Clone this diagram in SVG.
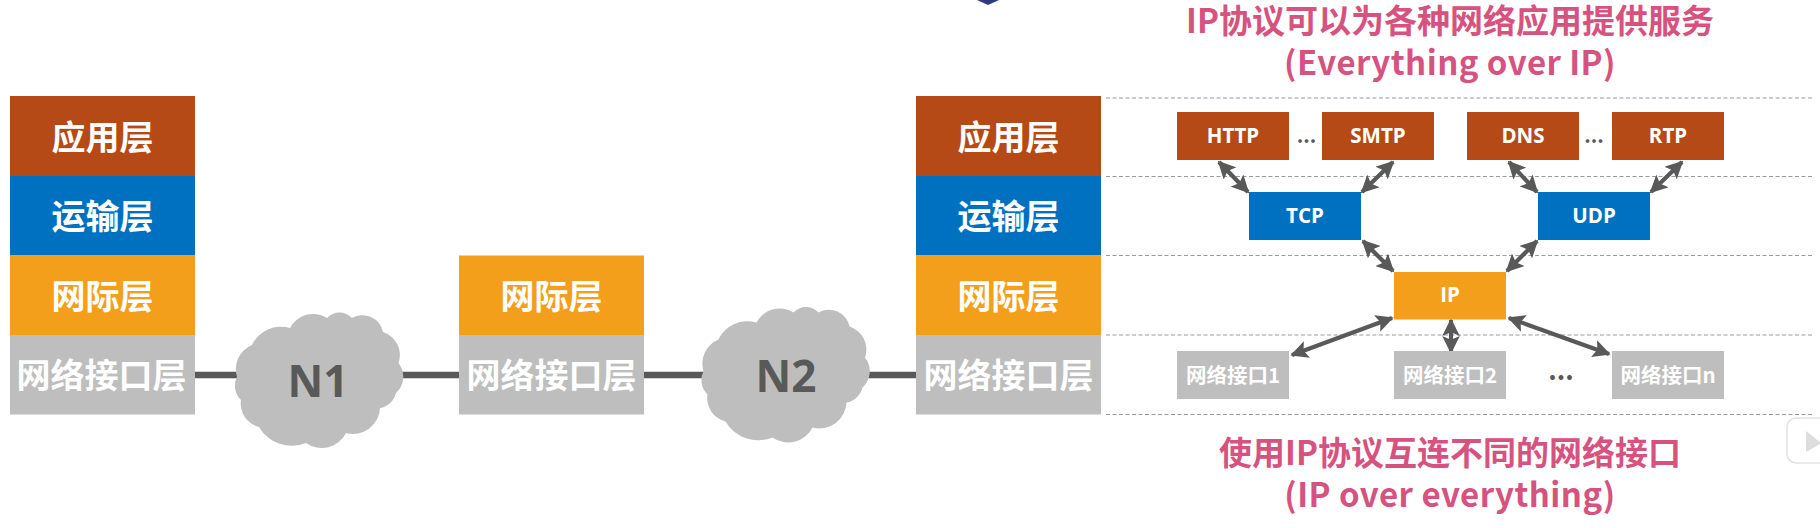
<svg xmlns="http://www.w3.org/2000/svg" xmlns:xlink="http://www.w3.org/1999/xlink" width="1820" height="528" viewBox="0 0 1820 528">
<style>
text{font-family:"Noto Sans CJK SC","Noto Sans",sans-serif;font-weight:700;text-anchor:middle}
.layer{font-size:34px;fill:#fff}
.small{font-size:20.500px;fill:#fff;font-family:"Open Sans","Noto Sans CJK SC",sans-serif;font-weight:700}
.ni{font-size:20.500px;fill:#fff}
.title{font-size:33px;fill:#d6527f}
.wide{letter-spacing:.45px}
.net{font-size:44px;fill:#595959;font-family:"Noto Sans",sans-serif}
.dots{font-size:20px;fill:#595959}
.app{fill:#b54a17}.tra{fill:#0070c0}.ipl{fill:#f39f1b}.lnk{fill:#bebebe}
.wire{stroke:#595959;stroke-width:6.5;fill:none}
.arrow{stroke:#595959;stroke-width:4.2;fill:none;marker-start:url(#ah);marker-end:url(#ah)}
.dash{stroke:#9a9a9a;stroke-width:1.2;stroke-dasharray:4 2.5;fill:none}
</style>
<defs>
<marker id="ah" viewBox="0 0 10 10" refX="9" refY="5" markerWidth="4.2" markerHeight="4.2" orient="auto-start-reverse"><path d="M0 0L10 5L0 10L2 5Z" fill="#595959"/></marker>
<path id="cloud" class="lnk" d="M237 376.700A26 26 0 0 1 252 345A32 32 0 0 1 290 328A26 26 0 0 1 327 318A17 17 0 0 1 352 318A21 21 0 0 1 383 332A24 24 0 0 1 398.500 363A22 22 0 0 1 396 393A20 20 0 0 1 380 408A27 27 0 0 1 346 433A27 27 0 0 1 306 443A38 38 0 0 1 259 427A24 24 0 0 1 241 400A20 20 0 0 1 237 376.700Z"/>
</defs>
<polygon points="977,0 999,0 988,5" fill="#2e3a80"/>
<g id="connectors">
<path class="wire" d="M195 375H240M400 375H459M644 375H706M865 375H916"/>
<path class="dash" d="M1106 98H1814M1106 176.500H1814M1106 255.500H1814M1106 335H1814M1106 414.500H1814"/>
<path class="arrow" d="M1219 162L1248 192"/><path class="arrow" d="M1393 162L1362 192"/><path class="arrow" d="M1509 162L1537 192"/><path class="arrow" d="M1682 162L1651 192"/><path class="arrow" d="M1363 241L1393 271"/><path class="arrow" d="M1537 241L1507 271"/><path class="arrow" d="M1392 318L1292 355"/><path class="arrow" d="M1451 320V352"/><path class="arrow" d="M1509 318L1609 354"/>
</g>
<g id="stack-left">
<rect class="app" x="10" y="96" width="185" height="80"/><rect class="tra" x="10" y="176" width="185" height="79.500"/><rect class="ipl" x="10" y="255.500" width="185" height="79.500"/><rect class="lnk" x="10" y="335" width="185" height="79.500"/>
<text class="layer" x="102.500" y="150">应用层</text><text class="layer" x="102.500" y="229">运输层</text><text class="layer" x="102.500" y="309">网际层</text><text class="layer" x="101.500" y="388">网络接口层</text>
</g>
<g id="stack-middle">
<rect class="ipl" x="459" y="255.500" width="185" height="79.500"/><rect class="lnk" x="459" y="335" width="185" height="79.500"/>
<text class="layer" x="551.500" y="309">网际层</text><text class="layer" x="551.500" y="388">网络接口层</text>
</g>
<g id="stack-right">
<rect class="app" x="916" y="96" width="185" height="80"/><rect class="tra" x="916" y="176" width="185" height="79.500"/><rect class="ipl" x="916" y="255.500" width="185" height="79.500"/><rect class="lnk" x="916" y="335" width="185" height="79.500"/>
<text class="layer" x="1008.500" y="150">应用层</text><text class="layer" x="1008.500" y="229">运输层</text><text class="layer" x="1008.500" y="309">网际层</text><text class="layer" x="1008.500" y="388">网络接口层</text>
</g>
<g id="n1"><use xlink:href="#cloud" href="#cloud"/><text class="net" x="318" y="397">N1</text></g>
<g id="n2"><use xlink:href="#cloud" href="#cloud" x="466.500" y="-5.500"/><text class="net" x="786" y="392">N2</text></g>
<g id="http"><rect class="app" x="1177" y="112" width="112" height="48"/><text class="small" x="1233" y="143">HTTP</text></g>
<g id="smtp"><rect class="app" x="1322" y="112" width="112" height="48"/><text class="small" x="1378" y="143">SMTP</text></g>
<g id="dns"><rect class="app" x="1467" y="112" width="112" height="48"/><text class="small" x="1523" y="143">DNS</text></g>
<g id="rtp"><rect class="app" x="1612" y="112" width="112" height="48"/><text class="small" x="1668" y="143">RTP</text></g>
<g id="tcp"><rect class="tra" x="1249" y="192" width="112" height="48"/><text class="small" x="1305" y="223">TCP</text></g>
<g id="udp"><rect class="tra" x="1538" y="192" width="112" height="48"/><text class="small" x="1594" y="223">UDP</text></g>
<g id="ip"><rect class="ipl" x="1394" y="272" width="112" height="47.500"/><text class="small" x="1450" y="302">IP</text></g>
<g id="if1"><rect class="lnk" x="1177" y="351" width="112" height="48"/><text class="ni" x="1233" y="383">网络接口1</text></g>
<g id="if2"><rect class="lnk" x="1394" y="351" width="112" height="48"/><text class="ni" x="1450" y="383">网络接口2</text></g>
<g id="ifn"><rect class="lnk" x="1612" y="351" width="112" height="48"/><text class="ni" x="1668" y="383">网络接口n</text></g>
<text class="dots" x="1306.500" y="143">...</text><text class="dots" x="1594" y="143">...</text><text class="dots" style="font-size:26px" x="1561" y="380">...</text>
<text class="title" x="1450" y="33">IP协议可以为各种网络应用提供服务</text>
<text class="title wide" x="1450" y="75">(Everything over IP)</text>
<text class="title" x="1450" y="465">使用IP协议互连不同的网络接口</text>
<text class="title wide" x="1450" y="507">(IP over everything)</text>
<rect x="1787" y="418" width="50" height="45" rx="9" fill="#fff" stroke="#e2e2e2" stroke-width="1.500"/>
<polygon points="1806,431 1820,442 1820,444 1806,452" fill="#dddddd"/>
</svg>
